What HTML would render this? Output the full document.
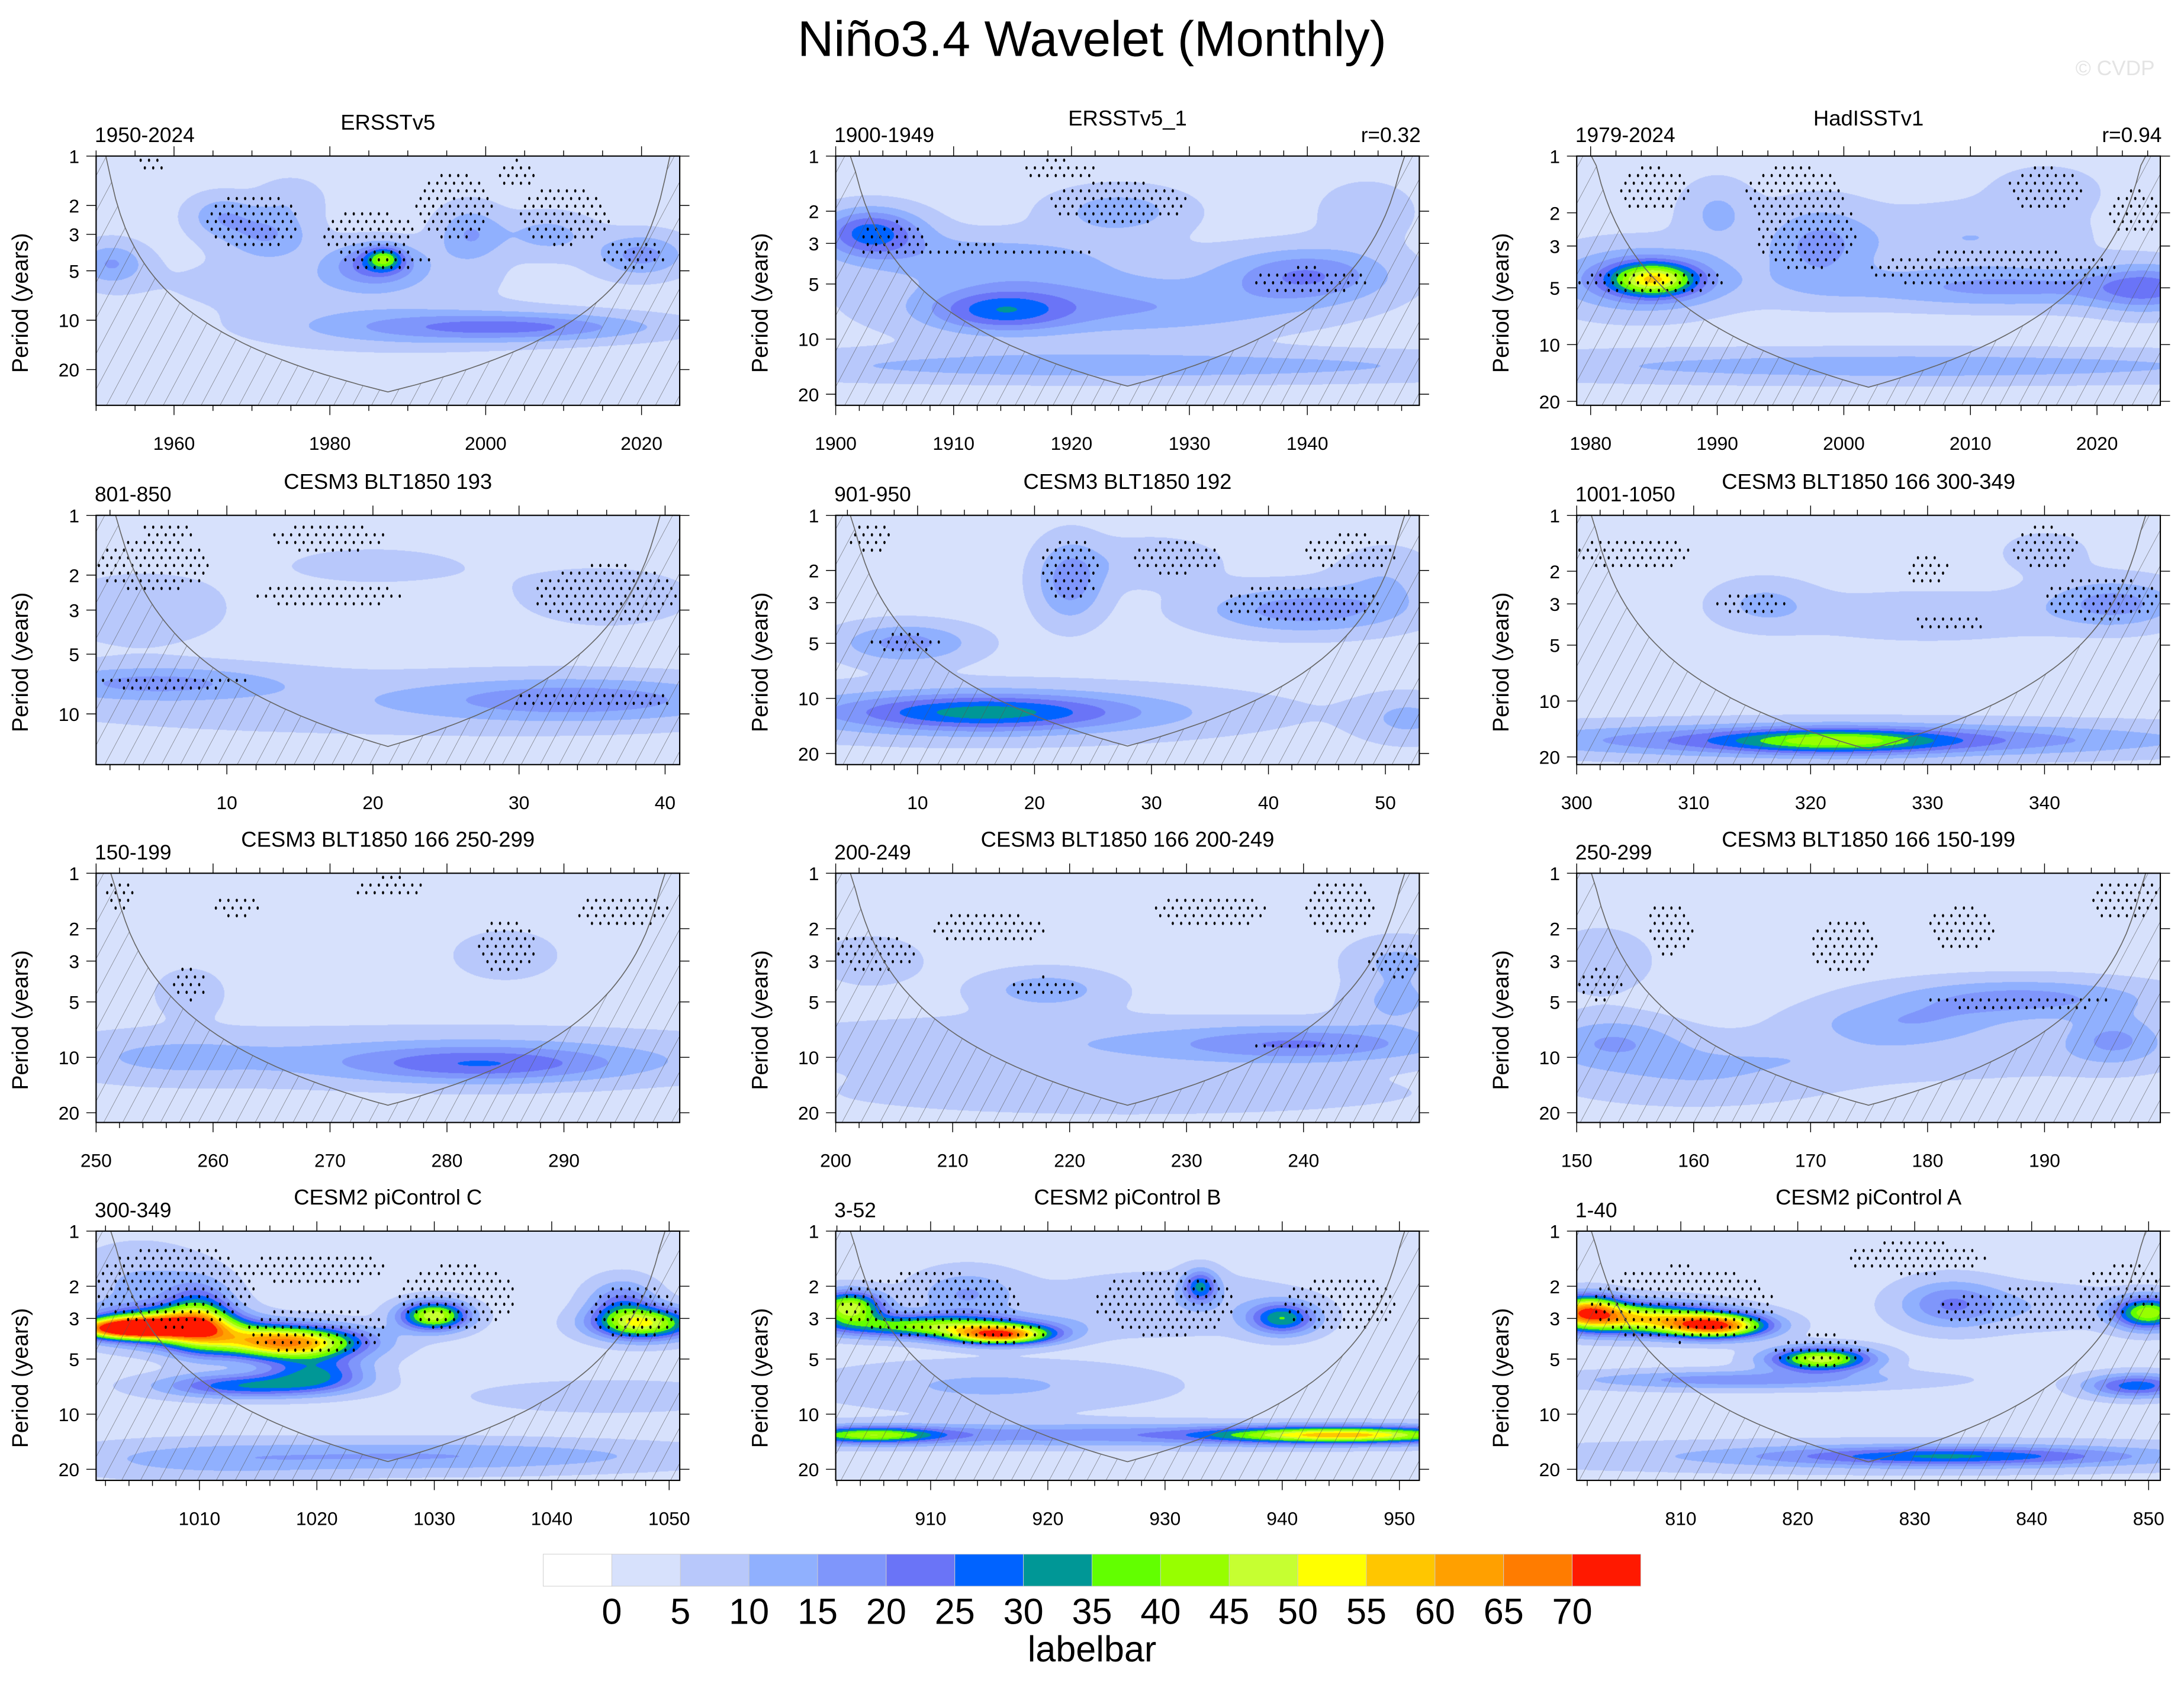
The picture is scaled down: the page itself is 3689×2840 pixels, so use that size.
<!DOCTYPE html>
<html><head><meta charset="utf-8">
<style>
html,body{margin:0;padding:0;background:#fff;}
#wrap{position:relative;width:3689px;height:2840px;overflow:hidden;background:#fff;}
canvas{position:absolute;}
#ov{position:absolute;left:0;top:0;}
text{font-family:"Liberation Sans",Arial,sans-serif;}
</style></head>
<body>
<div id="wrap">
<svg id="ov" width="3689" height="2840" viewBox="0 0 1568 1207">
<defs>
<pattern id="hatch" width="12" height="10" patternUnits="userSpaceOnUse" patternTransform="rotate(28)">
<line x1="0" y1="-1" x2="0" y2="11" stroke="#555" stroke-width="0.45"/>
</pattern>
</defs>
<text x="784" y="40" font-size="36" text-anchor="middle">Niño3.4 Wavelet (Monthly)</text>
<text x="1547" y="54" font-size="15" text-anchor="end" fill="#e4e4e4">© CVDP</text>
<g id="g"></g>
<g id="lb"></g>
</svg>
</div>
<script>
const S = 3689/1568;
// ----- chart data -----
const panelTitles = ["ERSSTv5","ERSSTv5_1","HadISSTv1","CESM3 BLT1850 193","CESM3 BLT1850 192","CESM3 BLT1850 166 300-349","CESM3 BLT1850 166 250-299","CESM3 BLT1850 166 200-249","CESM3 BLT1850 166 150-199","CESM2 piControl C","CESM2 piControl B","CESM2 piControl A"];
const panelLeftLabels = ["1950-2024","1900-1949","1979-2024","801-850","901-950","1001-1050","150-199","200-249","250-299","300-349","3-52","1-40"];
const panelRightLabels = ["","r=0.32","r=0.94","","","","","","","","",""];
const panelStart = [1950,1900,1978.9,1.05,3,300,250,200,150,1001.2,901.9,801.1];
const panelEnd = [2024.9,1949.5,2025,41,52.9,349.9,299.9,249.9,199.9,1050.9,951.7,851];
const panelMaxPeriod = [33,23,21,18,23,22,22.6,22.6,22.6,23,23,23];
const xTickLabels = [
 [1960,1980,2000,2020],[1900,1910,1920,1930,1940],[1980,1990,2000,2010,2020],
 [10,20,30,40],[10,20,30,40,50],[300,310,320,330,340],
 [250,260,270,280,290],[200,210,220,230,240],[150,160,170,180,190],
 [1010,1020,1030,1040,1050],[910,920,930,940,950],[810,820,830,840,850]];
const xMinorStep = [5,2,2,2,2,2,2,2,2,2,2,2];
const yTickLabels = [1,2,3,5,10,20];
const levelValues = [0,5,10,15,20,25,30,35,40,45,50,55,60,65,70];
const levelColors = ["#ffffff","#d7e1fc","#b8c8fb","#90b0fe","#7f96fb","#6a74f7","#0063ff","#009796","#62ff00","#97ff00","#c6ff31","#ffff00","#ffc600","#ffa000","#ff7c00","#ff1900"];
// blobs: [time, period, sigmaTime(yrs), sigmaOctaves, amplitude]
const blobData = [
 [[1952,4.5,3,0.3,12],[1972,3,4,0.35,12],[1986,4.5,4,0.3,18],[1987,4.2,1.5,0.15,22],[1998,3,3,0.4,12],[2008,3,4,0.3,9],[2020,4,4,0.3,14],[1966,2.3,3,0.3,10],[2005,11,12,0.2,16],[1988,11,12,0.3,8],[1980,6,15,0.4,5],[1975,1.8,3,0.3,5]],
 [[1903,2.6,3,0.3,24],[1912,3.5,8,0.3,8],[1914,7,4,0.25,18],[1918,6,10,0.5,10],[1924,2,4,0.3,10],[1940,4.5,5,0.35,17],[1925,14,25,0.2,10],[1930,7,8,0.3,6],[1945,2,3,0.4,5]],
 [[1985,4.5,2.3,0.2,38],[1984,4.5,5,0.4,16],[1998,3,3,0.5,13],[2013,5,10,0.25,13],[2024,5,3,0.3,14],[2010,2.7,6,0.4,7],[2005,13,25,0.2,10],[1990,2,2,0.4,8],[2016,1.5,3,0.3,5]],
 [[5,7,6,0.2,12],[34,8.5,8,0.25,13],[4,3,4,0.4,6],[20,9,20,0.4,4],[36,2.6,5,0.4,4],[20,1.8,6,0.3,3]],
 [[16,12,8,0.22,20],[15,12,16,0.35,10],[9,5,4,0.25,14],[23,2.3,2,0.5,15],[43,3.3,6,0.3,15],[30,1.8,4,0.3,6],[52,13,3,0.3,8],[50,2.2,3,0.4,6]],
 [[322,16.5,6,0.15,20],[322,16.5,16,0.18,16],[325,16,30,0.25,6],[346,3,4,0.3,14],[316,3,3,0.3,8],[330,3.5,8,0.3,6],[340,1.6,3,0.3,4]],
 [[283,11,8,0.22,15],[280,10,20,0.35,8],[258,4.5,2,0.3,6],[285,2.8,3,0.3,6],[256,10,6,0.3,5]],
 [[240,8.5,8,0.22,14],[220,8.5,20,0.35,6],[218,4.3,4,0.25,10],[203,3,3,0.3,6],[248,5,3,0.3,8],[248,3,3,0.3,8],[225,16,20,0.3,4]],
 [[188,4.8,8,0.25,14],[178,6.5,6,0.25,10],[153,8,4,0.3,10],[196,8,3,0.3,12],[170,10,20,0.3,6],[152,3,3,0.4,6],[160,14,8,0.3,5]],
 [[1004,3.4,3,0.12,68],[1007,3.2,4,0.2,42],[1010,3,2,0.4,30],[1018,4.2,4,0.2,45],[1014,3.8,6,0.2,28],[1014,7,5,0.15,26],[1020,6,3,0.2,24],[1030,2.9,2,0.18,46],[1048,3.2,3,0.2,44],[1046,2.5,2,0.3,18],[1030,17,15,0.2,12],[1045,8,8,0.2,6],[1005,2,4,0.5,8],[1010,18,8,0.25,6]],
 [[903,2.6,2,0.2,45],[910,3.3,6,0.15,38],[916,3.7,3,0.12,58],[915,7,10,0.3,8],[905,13,4,0.1,30],[945,13,7,0.1,44],[925,13,30,0.15,15],[933,2,1,0.2,25],[940,3,2,0.2,30],[913,2.2,3,0.3,12],[930,2.5,8,0.4,6]],
 [[813,3.3,3,0.15,60],[806,3,5,0.2,48],[802,2.7,2,0.2,44],[822,5,3,0.15,45],[815,6.5,10,0.12,15],[849,7,3,0.15,25],[850,2.8,2,0.2,40],[833,2.5,3,0.3,15],[833,17,10,0.12,20],[830,17,25,0.2,8],[840,2.6,6,0.3,6]]
];
// stipple regions: [time, period, radiusTime, radiusOctaves]
const stippleData = [
 [[1970,2.5,6,0.6],[1985,3,6,0.5],[1996,2,5,0.7],[2010,2.3,6,0.6],[2019,4,4,0.3],[1987,4.3,6,0.2],[1957,1.1,2,0.2],[2004,1.3,3,0.3]],
 [[1924,1.8,6,0.4],[1912,3.3,10,0.12],[1940,4.8,5,0.25],[1905,2.8,3,0.3],[1919,1.2,3,0.2]],
 [[1985,4.6,6,0.22],[1997,2.5,4,0.7],[2012,4,10,0.35],[1996,1.6,4,0.5],[2016,1.5,3,0.4],[1985,1.5,3,0.4],[2023,2,2,0.4]],
 [[5,1.8,4,0.45],[17,2.5,5,0.22],[17,1.3,4,0.25],[36,2.5,5,0.5],[6,1.2,2,0.15],[6,7,6,0.1],[35,8.5,6,0.13]],
 [[23,2,2.5,0.6],[9,5,3,0.18],[43,3,7,0.35],[32,1.7,4,0.3],[6,1.3,2,0.3],[47,1.6,4,0.35]],
 [[315,3,3,0.2],[332,3.8,4,0.1],[345,2.8,5,0.4],[305,1.6,5,0.3],[330,2,2,0.3],[340,1.5,3,0.4]],
 [[252,1.3,1.5,0.3],[262,1.5,2,0.2],[285,2.5,2.5,0.5],[295,1.6,4,0.3],[275,1.2,3,0.2],[285,11,4,0.06],[258,4,1.5,0.3]],
 [[218,4.2,3,0.2],[203,2.7,4,0.35],[213,2,5,0.3],[232,1.6,5,0.3],[243,1.5,3,0.5],[240,8.5,5,0.07],[248,3,3,0.3]],
 [[158,2,2,0.5],[152,4,2,0.3],[173,2.5,3,0.5],[183,2,3,0.4],[197,1.4,3,0.4],[188,5,8,0.15]],
 [[1008,2,7,0.75],[1020,3.5,6,0.45],[1020,1.6,6,0.3],[1032,2.3,5,0.6],[1047,2.8,4,0.5]],
 [[910,2.5,8,0.6],[930,2.5,6,0.6],[945,2.5,5,0.5],[915,3.6,5,0.2]],
 [[810,2.5,8,0.7],[822,4.5,4,0.3],[840,2.7,8,0.4],[830,1.4,6,0.3],[848,2,4,0.4]]
];
// ----- layout -----
const colX = [69,600,1132], rowY = [112,370,627,884], PW = 419, PH = 179;
const NS = "http://www.w3.org/2000/svg";
const g = document.getElementById('g');
const wrap = document.getElementById('wrap');
function mk(tag, attrs, parent){const e=document.createElementNS(NS,tag);for(const k in attrs)e.setAttribute(k,attrs[k]);(parent||g).appendChild(e);return e;}
function hexRGB(h){return [parseInt(h.slice(1,3),16),parseInt(h.slice(3,5),16),parseInt(h.slice(5,7),16)];}
const rgbs = levelColors.map(hexRGB);

for(let p=0;p<12;p++){
  const X0 = colX[p%3], Y0 = rowY[Math.floor(p/3)];
  const t0 = panelStart[p], t1 = panelEnd[p], maxP = panelMaxPeriod[p];
  const lmax = Math.log2(maxP);
  const xs = t => X0 + (t - t0)/(t1 - t0)*PW;
  const ys = P => Y0 + Math.log2(P)/lmax*PH;
  const cv = document.createElement('canvas');
  const W = Math.round(PW*S), H = Math.round(PH*S);
  cv.width = W; cv.height = H;
  cv.style.left = (X0*S)+'px'; cv.style.top = (Y0*S)+'px';
  cv.style.width = W+'px'; cv.style.height = H+'px';
  
  
  wrap.insertBefore(cv, wrap.firstChild);
  const ctx = cv.getContext('2d');
  const img = ctx.createImageData(W,H);
  const bl = blobData[p];
  const gx = bl.map(b=>{const a=new Float32Array(W);for(let i=0;i<W;i++){const t=t0+(i+0.5)/W*(t1-t0);a[i]=Math.exp(-0.5*((t-b[0])/b[2])**2);}return a;});
  const gy = bl.map(b=>{const a=new Float32Array(H);for(let j=0;j<H;j++){const lp=(j+0.5)/H*lmax;a[j]=b[4]*Math.exp(-0.5*((lp-Math.log2(b[1]))/b[3])**2);}return a;});
  for(let j=0;j<H;j++){for(let i=0;i<W;i++){
    let v=3; for(let k=0;k<bl.length;k++) v+=gx[k][i]*gy[k][j];
    let li = v<0?0:Math.min(15,1+Math.floor(v/5));
    const c=rgbs[li], o=(j*W+i)*4;
    img.data[o]=c[0];img.data[o+1]=c[1];img.data[o+2]=c[2];img.data[o+3]=255;
  }}
  ctx.putImageData(img,0,0);
  const sg = mk('g',{fill:'#000'});
  
  
  const st = stippleData[p];
  let row=0;
  for(let y=Y0+3; y<Y0+PH-2; y+=5.5, row++){
    const P = Math.pow(2,(y-Y0)/PH*lmax);
    for(let x=X0+2+(row%2?3:0); x<X0+PW-1; x+=6){
      const t = t0+(x-X0)/PW*(t1-t0);
      let ok=false;
      for(const s of st){ if(((t-s[0])/s[2])**2+(Math.log2(P/s[1])/s[3])**2<1){ok=true;break;} }
      if(ok){ mk('ellipse',{cx:x.toFixed(1),cy:y.toFixed(1),rx:0.8,ry:1.2},sg); }
    }
  }
  let pts=[];
  for(let k=0;k<=120;k++){
    const t=t0+k/120*(t1-t0);
    const cp=Math.max(0.73*Math.min(t-t0,t1-t),0.01);
    let y=ys(cp); y=Math.max(Y0,Math.min(Y0+PH,y));
    pts.push([xs(t),y]);
  }
  const dd='M'+pts.map(q=>q[0].toFixed(1)+','+q[1].toFixed(1)).join(' L');
  const hatch = mk('path',{d:dd+` L${X0+PW},${Y0+PH} L${X0},${Y0+PH} Z`,fill:'url(#hatch)',stroke:'none'});
  
  
  const coi = mk('path',{d:dd,fill:'none',stroke:'#666','stroke-width':0.7});
  
  
  const fr = mk('rect',{x:X0,y:Y0,width:PW,height:PH,fill:'none',stroke:'#000','stroke-width':0.9});
  
  
  const ms = xMinorStep[p];
  for(let t=Math.ceil(t0/ms)*ms; t<=t1; t+=ms){
    const L = xTickLabels[p].includes(t)?7:4;
    const x=xs(t);
    const tb = mk('line',{x1:x,y1:Y0+PH,x2:x,y2:Y0+PH+L,stroke:'#000','stroke-width':0.6});
    
    
    const tt = mk('line',{x1:x,y1:Y0,x2:x,y2:Y0-L,stroke:'#000','stroke-width':0.6});
    
    
  }
  for(const t of xTickLabels[p]){
    const tl = mk('text',{x:xs(t),y:Y0+PH+32,'font-size':13.5,'text-anchor':'middle'});
    tl.textContent = t;
    
    
  }
  for(const P of yTickLabels){
    if(P>maxP) continue;
    const y=ys(P);
    const a = mk('line',{x1:X0-7,y1:y,x2:X0,y2:y,stroke:'#000','stroke-width':0.6});
    
    
    const b = mk('line',{x1:X0+PW,y1:y,x2:X0+PW+7,y2:y,stroke:'#000','stroke-width':0.6});
    
    
    const tl = mk('text',{x:X0-12,y:y+5,'font-size':13.5,'text-anchor':'end'});
    tl.textContent = P;
    
    
  }
  const yt = mk('text',{x:0,y:0,'font-size':16,'text-anchor':'middle',transform:`translate(${X0-49},${Y0+PH/2+16}) rotate(-90)`});
  yt.textContent = 'Period (years)';
  
  
  const ti = mk('text',{x:X0+PW/2,y:Y0-19-((p===1||p===2)?3:0),'font-size':15.5,'text-anchor':'middle'});
  ti.textContent = panelTitles[p];
  
  
  const ll = mk('text',{x:X0-1,y:Y0-10,'font-size':15,'text-anchor':'start'});
  ll.textContent = panelLeftLabels[p];
  
  
  if(panelRightLabels[p]){
    const rl = mk('text',{x:X0+PW+1,y:Y0-10,'font-size':15,'text-anchor':'end'});
    rl.textContent = panelRightLabels[p];
    
    
  }
}
const lb = document.getElementById('lb');
const bx0=390, bw=(1178-390)/16;
for(let k=0;k<16;k++){
  const r = mk('rect',{x:bx0+k*bw,y:1116,width:bw,height:23,fill:levelColors[k],stroke:'#ccc','stroke-width':0.4},lb);
  
  
}
for(let k=0;k<levelValues.length;k++){
  const t = mk('text',{x:bx0+(k+1)*bw,y:1166,'font-size':26,'text-anchor':'middle'},lb);
  t.textContent = levelValues[k];
  
  
}
const lt = mk('text',{x:784,y:1193,'font-size':26,'text-anchor':'middle'},lb);
lt.textContent='labelbar';


</script>
</body></html>
